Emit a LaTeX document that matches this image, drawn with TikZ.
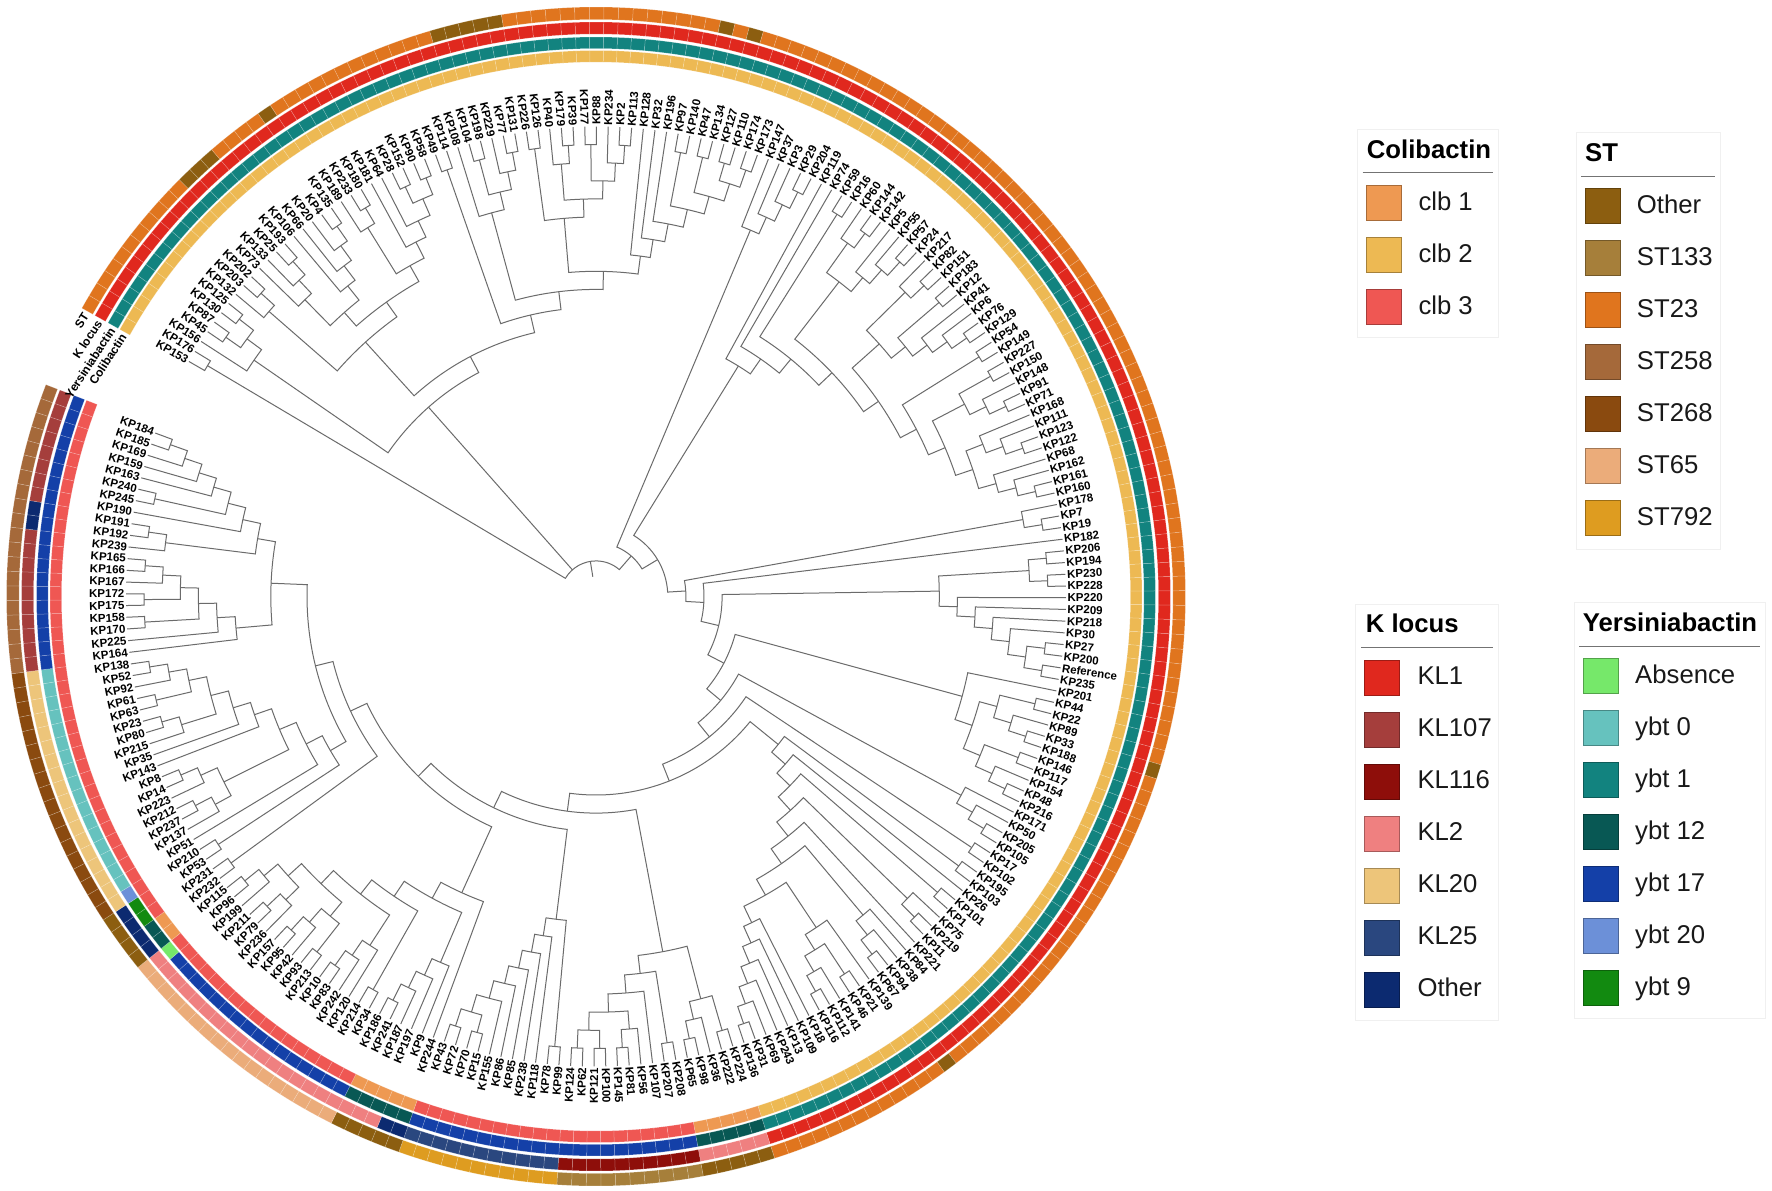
\documentclass[tikz,border=0pt]{standalone}
\usepackage{fontspec}
\setmainfont{Liberation Sans}
\definecolor{clbA}{HTML}{EE9952}\definecolor{clbB}{HTML}{EDB953}\definecolor{clbC}{HTML}{EF5753}
\definecolor{stO}{HTML}{8C5E10}\definecolor{stA}{HTML}{A67F3A}\definecolor{stB}{HTML}{E0751E}
\definecolor{stC}{HTML}{A5693A}\definecolor{stD}{HTML}{8A4A0F}\definecolor{stE}{HTML}{EBAC7A}\definecolor{stF}{HTML}{DE9C20}
\definecolor{klA}{HTML}{E0281E}\definecolor{klB}{HTML}{A53E3C}\definecolor{klC}{HTML}{8E0E0A}
\definecolor{klD}{HTML}{EF8080}\definecolor{klE}{HTML}{EDC57A}\definecolor{klF}{HTML}{2A477F}\definecolor{klO}{HTML}{0C2A70}
\definecolor{ybN}{HTML}{76E86A}\definecolor{ybA}{HTML}{66C2BE}\definecolor{ybB}{HTML}{12837F}\definecolor{ybC}{HTML}{085854}
\definecolor{ybD}{HTML}{1440A8}\definecolor{ybE}{HTML}{6C90D8}\definecolor{ybF}{HTML}{128A10}
\tikzset{
 branch/.style={draw=black!58,line width=1pt},
 leaflab/.style={font=\bfseries\fontsize{11.5}{12}\selectfont,inner sep=0pt,text=black},
 ringlab/.style={font=\bfseries\fontsize{12}{13}\selectfont,inner sep=0pt,anchor=east,rotate=57},
 cellsector/.style={draw=white,draw opacity=0.28,line width=0.5pt},
 legbox/.style={draw=black!6,line width=1pt,fill=white},
 legrule/.style={draw=black!55,line width=1pt},
 legtitle/.style={font=\bfseries\fontsize{25.7}{30}\selectfont,inner sep=0pt,anchor=base west},
 legtext/.style={font=\fontsize{25.7}{30}\selectfont,inner sep=0pt,anchor=base west,text=black!90},
 legswatch/.style={line width=1pt,minimum size=35pt,inner sep=0pt,anchor=north west},
}
\makeatletter
\newcount\stkn \newcount\leafn \newcount\nodeid \newcount\tmph \newcount\cellidx \newcount\runc
\newdimen\wrk
\def\lparT{(}\def\rparT{)}\def\triT{]}\def\endT{.}
\def\setang{\wrk=150pt \advance\wrk by -1.43\dimexpr\leafn pt\relax \edef\thisang{\strip@pt\wrk}}
\def\addleaf#1{%
 \setang
 \coordinate (tip-#1) at (\thisang:470pt);
 \ifdim\wrk>90pt \node[leaflab,rotate=\strip@pt\dimexpr\wrk+180pt\relax,anchor=east] (#1) at (\thisang:471.5pt) {#1};%
 \else\ifdim\wrk<-90pt \node[leaflab,rotate=\strip@pt\dimexpr\wrk+180pt\relax,anchor=east] (#1) at (\thisang:471.5pt) {#1};%
 \else \node[leaflab,rotate=\thisang,anchor=west] (#1) at (\thisang:471.5pt) {#1};%
 \fi\fi
 \advance\stkn by 1
 \expandafter\edef\csname sa\the\stkn\endcsname{\thisang}%
 \expandafter\def\csname sh\the\stkn\endcsname{0}%
 \expandafter\edef\csname sn\the\stkn\endcsname{tip-#1}%
 \advance\leafn by 1 }
\def\combine{%
 \advance\nodeid by 1
 \edef\aA{\csname sa\the\numexpr\stkn-1\relax\endcsname}%
 \edef\aB{\csname sa\the\stkn\endcsname}%
 \edef\nA{\csname sn\the\numexpr\stkn-1\relax\endcsname}%
 \edef\nB{\csname sn\the\stkn\endcsname}%
 \tmph=\csname sh\the\numexpr\stkn-1\relax\endcsname\relax
 \ifnum\csname sh\the\stkn\endcsname>\tmph \tmph=\csname sh\the\stkn\endcsname\relax\fi
 \advance\tmph by 1
 \wrk=\dimexpr470pt-18.1pt*\tmph\relax \edef\rr{\strip@pt\wrk}%
 \wrk=\aA pt \advance\wrk by \aB pt \divide\wrk by 2 \edef\mm{\strip@pt\wrk}%
 \coordinate (n\the\nodeid) at (\mm:\rr pt);
 \draw[branch] (\nA) -- (\aA:\rr pt) arc[start angle=\aA,end angle=\aB,radius=\rr pt] -- (\nB);
 \advance\stkn by -1
 \expandafter\edef\csname sa\the\stkn\endcsname{\mm}%
 \expandafter\edef\csname sh\the\stkn\endcsname{\the\tmph}%
 \expandafter\edef\csname sn\the\stkn\endcsname{n\the\nodeid}}
\def\combinethree{%
 \advance\nodeid by 1
 \edef\aA{\csname sa\the\numexpr\stkn-2\relax\endcsname}%
 \edef\aM{\csname sa\the\numexpr\stkn-1\relax\endcsname}%
 \edef\aB{\csname sa\the\stkn\endcsname}%
 \edef\nA{\csname sn\the\numexpr\stkn-2\relax\endcsname}%
 \edef\nM{\csname sn\the\numexpr\stkn-1\relax\endcsname}%
 \edef\nB{\csname sn\the\stkn\endcsname}%
 \tmph=\csname sh\the\stkn\endcsname\relax \advance\tmph by 1
 \wrk=\dimexpr470pt-18.1pt*\tmph\relax \edef\rr{\strip@pt\wrk}%
 \wrk=\aA pt \advance\wrk by \aB pt \divide\wrk by 2 \edef\mm{\strip@pt\wrk}%
 \coordinate (n\the\nodeid) at (\mm:\rr pt);
 \coordinate (rootstub) at (\mm:20pt);
 \draw[branch] (\nA) -- (\aA:\rr pt) arc[start angle=\aA,end angle=\aB,radius=\rr pt] -- (\nB);
 \draw[branch] (\nM) -- (\aM:\rr pt);
 \draw[branch] (n\the\nodeid) -- (rootstub);
 \advance\stkn by -2 }
\def\parsetree#1 {\def\tok{#1}%
 \ifx\tok\endT \let\nextT\relax
 \else\ifx\tok\lparT \let\nextT\parsetree
 \else\ifx\tok\rparT \combine \let\nextT\parsetree
 \else\ifx\tok\triT \combinethree \let\nextT\parsetree
 \else \addleaf{#1}\let\nextT\parsetree
 \fi\fi\fi\fi\nextT}
% ring cells
\def\cellsec#1{%
 \wrk=150.715pt \advance\wrk by -1.43\dimexpr\cellidx pt\relax \edef\ca{\strip@pt\wrk}%
 \advance\wrk by -1.43pt \edef\cb{\strip@pt\wrk}%
 \path[cellsector,fill=#1] (\ca:\ringA pt) arc[start angle=\ca,end angle=\cb,radius=\ringA pt]
   -- (\cb:\ringB pt) arc[start angle=\cb,end angle=\ca,radius=\ringB pt] -- cycle;
 \advance\cellidx by 1 }
\def\runstep{\ifnum\runc>0 \cellsec{\curcol}\advance\runc by -1 \expandafter\runstep\fi}
\def\run#1#2{\def\curcol{#1}\runc=#2\relax\runstep}
\def\ring#1#2{\def\ringA{#1}\def\ringB{#2}\cellidx=0 }
\makeatother
\newcommand{\legbox}[5]{\draw[legbox] (#1,#2) rectangle (#3,#4);}
\newcommand{\legitem}[6]{\node[legswatch,fill=#4,draw=#4!70!black] (#5sw) at (#1,#2) {};
 \node[legtext] (#5) at (#3,#2+25) {#6};}
\begin{document}
\begin{tikzpicture}
\useasboundingbox (0pt,0pt) rectangle (1772pt,-1191pt);
\fill[white] (0pt,0pt) rectangle (1772pt,-1191pt);
\begin{scope}[shift={(596pt,-596.5pt)}]
\ring{534.5}{546}\run{clbB}{156}\run{clbA}{5}\run{clbC}{21}\run{clbA}{5}\run{clbC}{17}\run{clbA}{2}\run{clbC}{40}
\ring{548}{559.5}\run{ybB}{156}\run{ybC}{5}\run{ybD}{21}\run{ybC}{5}\run{ybD}{16}\run{ybN}{1}\run{ybC}{2}\run{ybF}{2}\run{ybE}{1}\run{ybA}{17}\run{ybD}{20}
\ring{562.5}{574.5}\run{klA}{156}\run{klD}{5}\run{klC}{10}\run{klF}{11}\run{klO}{2}\run{klD}{20}\run{klO}{4}\run{klE}{18}\run{klB}{10}\run{klO}{2}\run{klB}{8}
\ring{577}{589.5}\run{stB}{11}\run{stO}{3}\run{stB}{4}\run{stO}{1}\run{stB}{12}\run{stO}{5}\run{stB}{15}\run{stO}{1}\run{stB}{1}\run{stO}{1}\run{stB}{63}\run{stO}{1}\run{stB}{24}\run{stO}{1}\run{stB}{13}\run{stO}{5}\run{stA}{10}\run{stF}{11}\run{stO}{5}\run{stE}{17}\run{stO}{4}\run{stD}{18}\run{stC}{20}
\node[ringlab] (lab-ST) at (151:583pt) {ST};
\node[ringlab] (lab-K) at (151:568pt) {K locus};
\node[ringlab] (lab-Y) at (151:553pt) {Yersiniabactin};
\node[ringlab] (lab-C) at (151:540pt) {Colibactin};
\parsetree ( ( KP153 KP176 )
( ( KP156 ( ( KP45 KP87 ) ( KP130 KP125 ) ) )
( ( ( KP132 ( KP203 KP202 ) )
( ( ( KP73 ( KP133 ( KP25 KP193 ) ) ) ( KP106 ( KP66 ( KP20 ( KP4 KP135 ) ) ) ) )
( ( KP189 ( KP233 KP180 ) ) ( KP181 ( KP64 ( ( KP28 KP152 ) ( KP90 KP58 ) ) ) ) ) ) )
( ( KP49 KP114 )
( ( KP108 ( ( KP104 KP198 ) ( KP229 ( KP77 KP131 ) ) ) )
( ( ( KP226 KP126 ) ( ( KP40 ( KP179 KP39 ) ) ( ( KP177 KP88 ) ( KP234 ( KP2 KP113 ) ) ) ) )
( KP128 ( KP32 ( KP196 ( ( KP97 KP140 ) ( ( KP47 KP134 ) ( ( KP127 KP110 ) ( KP174 KP173 ) ) ) ) ) ) ) ) ) ) ) )
( ( KP147 ( KP37 ( KP3 ( KP29 KP204 ) ) ) )
( ( KP119 ( KP74 ( ( KP59 KP16 )
( ( ( KP60 ( KP144 KP142 ) ) ( KP5 ( KP55 ( KP57 KP24 ) ) ) )
( ( ( KP217 ( KP82 KP151 ) ) ( ( KP183 KP12 ) ( KP41 ( KP6 ( KP76 KP129 ) ) ) ) )
( ( KP54 KP149 )
( ( ( KP227 KP150 ) ( KP148 ( KP91 KP71 ) ) ) ( ( KP168 ( KP111 ( KP123 KP122 ) ) ) ( KP68 ( KP162 ( KP161 KP160 ) ) ) ) ) ) ) ) ) ) )
( ( KP178 ( KP7 KP19 ) )
( KP182
( ( ( ( KP206 KP194 ) ( KP230 KP228 ) ) ( KP220 ( KP209 ( KP218 ( KP30 ( ( KP27 KP200 ) ( Reference KP235 ) ) ) ) ) ) )
( ( KP201 ( ( ( KP44 KP22 ) ( KP89 ( KP33 KP188 ) ) ) ( ( KP146 KP117 ) ( KP154 ( KP48 KP216 ) ) ) ) )
( ( KP171 ( KP50 ( KP205 KP105 ) ) )
( ( KP17 KP102 )
( ( ( KP195 KP103 ) ( KP26 ( ( KP101 KP1 ) ( ( KP75 ( KP219 KP11 ) ) ( KP221 ( ( KP84 ( KP38 ( KP94 KP67 ) ) )
( ( KP139 ( ( KP21 KP46 ) ( KP141 ( KP112 KP116 ) ) ) ) ( KP18 ( KP109 ( KP13 ( KP243 ( KP69 ( KP31 KP136 ) ) ) ) ) ) ) ) ) ) ) ) )
( ( ( ( KP224 KP222 ) ( KP36 ( KP98 KP65 ) ) ) ( ( KP208 KP207 ) ( KP107 ( ( KP56 ( KP81 KP145 ) ) ( ( KP100 KP121 ) ( KP62 KP124 ) ) ) ) ) )
( ( ( KP99 KP78 ) ( KP118 ( KP238 ( KP85 ( KP86 ( KP155 ( ( KP15 KP70 ) ( KP72 KP43 ) ) ) ) ) ) ) )
( ( KP244 ( ( KP9 ( KP197 ( KP187 ( KP241 KP186 ) ) ) ) ( ( KP34 KP214 ) ( ( KP120 ( KP242 ( KP83 KP10 ) ) )
( ( ( KP213 KP93 ) ( KP42 ( KP95 KP157 ) ) ) ( ( KP236 ( KP79 KP211 ) ) ( KP199 ( KP96 KP115 ) ) ) ) ) ) ) )
( ( KP232 KP231 )
( ( ( KP53 KP210 ) ( KP51 ( ( ( KP137 ( KP237 KP212 ) ) ( KP223 ( KP14 KP8 ) ) )
( KP143 ( KP35 ( ( KP215 ( KP80 KP23 ) ) ( ( KP63 KP61 ) ( KP92 ( KP52 KP138 ) ) ) ) ) ) ) ) )
( ( KP164 ( KP225 ( ( KP170 KP158 ) ( ( KP175 KP172 ) ( KP167 ( KP166 KP165 ) ) ) ) ) )
( ( KP239 ( KP192 KP191 ) ) ( KP190 ( ( KP245 KP240 ) ( KP163 ( KP159 ( KP169 ( KP185 KP184 ) ) ) ) ) ) ) ) ) ) ) ) ) ) ) ) ) ) ) ) ) ) ] . 
\end{scope}
\begin{scope}[x=1pt,y=-1pt]
\legbox{1357.3}{129.3}{1498.3}{337.3}{}
\node[legtitle] (t-clb) at (1366.7,158.5) {Colibactin};
\draw[legrule] (1362.7,172.7) -- (1492.7,172.7);
\legitem{1366}{185}{1418.3}{clbA}{clb1}{clb 1}
\legitem{1366}{237}{1418.3}{clbB}{clb2}{clb 2}
\legitem{1366}{289}{1418.3}{clbC}{clb3}{clb 3}
\legbox{1576}{132.7}{1720}{549.3}{}
\node[legtitle] (t-st) at (1585,161.7) {ST};
\draw[legrule] (1581.3,176.7) -- (1714.7,176.7);
\legitem{1584.5}{188.3}{1636.7}{stO}{stother}{Other}
\legitem{1584.5}{240.3}{1636.7}{stA}{st133}{ST133}
\legitem{1584.5}{292.3}{1636.7}{stB}{st23}{ST23}
\legitem{1584.5}{344.3}{1636.7}{stC}{st258}{ST258}
\legitem{1584.5}{396.3}{1636.7}{stD}{st268}{ST268}
\legitem{1584.5}{448.3}{1636.7}{stE}{st65}{ST65}
\legitem{1584.5}{500.3}{1636.7}{stF}{st792}{ST792}
\legbox{1355.7}{604.3}{1498.3}{1020.7}{}
\node[legtitle] (t-kl) at (1365.7,632.7) {K locus};
\draw[legrule] (1361,647.7) -- (1492.7,647.7);
\legitem{1364.2}{659.7}{1417.3}{klA}{kl1}{KL1}
\legitem{1364.2}{711.7}{1417.3}{klB}{kl107}{KL107}
\legitem{1364.2}{763.7}{1417.3}{klC}{kl116}{KL116}
\legitem{1364.2}{815.7}{1417.3}{klD}{kl2}{KL2}
\legitem{1364.2}{867.7}{1417.3}{klE}{kl20}{KL20}
\legitem{1364.2}{919.7}{1417.3}{klF}{kl25}{KL25}
\legitem{1364.2}{971.7}{1417.3}{klO}{klother}{Other}
\legbox{1574.3}{602.7}{1765.7}{1018.3}{}
\node[legtitle] (t-yb) at (1582.7,631) {Yersiniabactin};
\draw[legrule] (1579.3,646) -- (1760,646);
\legitem{1582.7}{658}{1635}{ybN}{ybabs}{Absence}
\legitem{1582.7}{710}{1635}{ybA}{yb0}{ybt 0}
\legitem{1582.7}{762}{1635}{ybB}{yb1}{ybt 1}
\legitem{1582.7}{814}{1635}{ybC}{yb12}{ybt 12}
\legitem{1582.7}{866}{1635}{ybD}{yb17}{ybt 17}
\legitem{1582.7}{918}{1635}{ybE}{yb20}{ybt 20}
\legitem{1582.7}{970}{1635}{ybF}{yb9}{ybt 9}
\end{scope}
\end{tikzpicture}
\end{document}
